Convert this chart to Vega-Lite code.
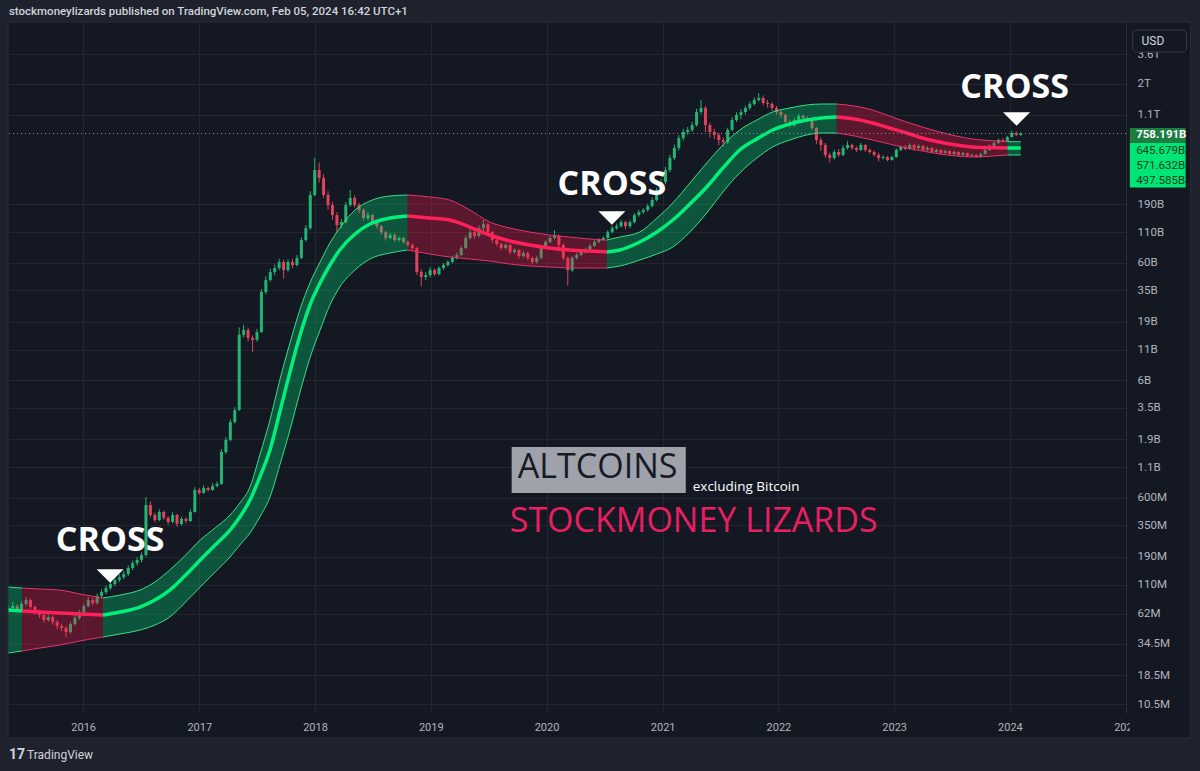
{
  "$schema": "https://vega.github.io/schema/vega-lite/v6.json",
  "width": 1118,
  "height": 691,
  "autosize": {"type": "none"},
  "padding": {"left": 8, "top": 22, "right": 74, "bottom": 58},
  "background": "#141823",
  "config": {
    "view": {"stroke": null},
    "axis": {"gridColor": "#22262f", "gridWidth": 1, "labelColor": "#b2b5be", "labelFont": "Roboto", "labelFontSize": 11.5, "tickSize": 0, "ticks": false, "domain": false}
  },
  "datasets": {
    "candles": [
      {"d":"2015-05-10","o":66,"h":73,"l":63,"c":69.4},
      {"d":"2015-05-24","o":69.4,"h":78,"l":67,"c":72.2},
      {"d":"2015-06-07","o":72.2,"h":75,"l":64,"c":66.7},
      {"d":"2015-06-21","o":66.7,"h":79,"l":64,"c":75},
      {"d":"2015-07-05","o":75,"h":86,"l":72,"c":81.2},
      {"d":"2015-07-19","o":81.2,"h":84,"l":68,"c":70.8},
      {"d":"2015-08-02","o":70.8,"h":73,"l":61,"c":64.1},
      {"d":"2015-08-16","o":64.1,"h":67,"l":57,"c":60.5},
      {"d":"2015-08-30","o":60.5,"h":63,"l":52,"c":54.9},
      {"d":"2015-09-13","o":54.9,"h":61,"l":53,"c":58.2},
      {"d":"2015-09-27","o":58.2,"h":60,"l":50,"c":52.8},
      {"d":"2015-10-11","o":52.8,"h":55,"l":46,"c":48.8},
      {"d":"2015-10-25","o":48.8,"h":51,"l":44,"c":46.9},
      {"d":"2015-11-08","o":46.9,"h":49,"l":39,"c":43.4},
      {"d":"2015-11-22","o":43.4,"h":53,"l":42,"c":50.7},
      {"d":"2015-12-06","o":50.7,"h":60,"l":49,"c":57.1},
      {"d":"2015-12-20","o":57.1,"h":67,"l":55,"c":64.1},
      {"d":"2016-01-03","o":64.1,"h":76,"l":62,"c":72.2},
      {"d":"2016-01-17","o":72.2,"h":86,"l":70,"c":81.2},
      {"d":"2016-01-31","o":81.2,"h":85,"l":73,"c":76.5},
      {"d":"2016-02-14","o":76.5,"h":92,"l":74,"c":87.9},
      {"d":"2016-02-28","o":87.9,"h":100,"l":85,"c":94.9},
      {"d":"2016-03-13","o":94.9,"h":108,"l":91,"c":102.6},
      {"d":"2016-03-27","o":102.6,"h":117,"l":99,"c":111},
      {"d":"2016-04-10","o":111,"h":126,"l":107,"c":120},
      {"d":"2016-04-24","o":120,"h":134,"l":115,"c":127},
      {"d":"2016-05-08","o":127,"h":143,"l":122,"c":135},
      {"d":"2016-05-22","o":135,"h":160,"l":130,"c":152},
      {"d":"2016-06-05","o":152,"h":176,"l":146,"c":167},
      {"d":"2016-06-19","o":167,"h":188,"l":160,"c":178},
      {"d":"2016-07-03","o":178,"h":207,"l":170,"c":196},
      {"d":"2016-07-17","o":196,"h":611,"l":190,"c":522},
      {"d":"2016-07-31","o":522,"h":560,"l":410,"c":430},
      {"d":"2016-08-14","o":430,"h":450,"l":372,"c":390},
      {"d":"2016-08-28","o":390,"h":480,"l":380,"c":456},
      {"d":"2016-09-11","o":456,"h":470,"l":390,"c":406},
      {"d":"2016-09-25","o":406,"h":420,"l":355,"c":375},
      {"d":"2016-10-09","o":375,"h":455,"l":365,"c":430},
      {"d":"2016-10-23","o":430,"h":440,"l":340,"c":360},
      {"d":"2016-11-06","o":360,"h":415,"l":350,"c":398},
      {"d":"2016-11-20","o":398,"h":410,"l":365,"c":382},
      {"d":"2016-12-04","o":382,"h":480,"l":375,"c":456},
      {"d":"2016-12-18","o":456,"h":740,"l":450,"c":701},
      {"d":"2017-01-01","o":701,"h":730,"l":640,"c":661},
      {"d":"2017-01-15","o":661,"h":770,"l":650,"c":729},
      {"d":"2017-01-29","o":729,"h":750,"l":680,"c":701},
      {"d":"2017-02-12","o":701,"h":800,"l":690,"c":758},
      {"d":"2017-02-26","o":758,"h":830,"l":740,"c":789},
      {"d":"2017-03-12","o":789,"h":1560,"l":775,"c":1476},
      {"d":"2017-03-26","o":1476,"h":1980,"l":1420,"c":1870},
      {"d":"2017-04-09","o":1870,"h":2800,"l":1820,"c":2654},
      {"d":"2017-04-23","o":2654,"h":3550,"l":2580,"c":3360},
      {"d":"2017-05-07","o":3360,"h":17000,"l":3300,"c":14670},
      {"d":"2017-05-21","o":14670,"h":17800,"l":13900,"c":16100},
      {"d":"2017-06-04","o":16100,"h":16900,"l":12900,"c":13830},
      {"d":"2017-06-18","o":13830,"h":14500,"l":10500,"c":13300},
      {"d":"2017-07-02","o":13300,"h":16500,"l":12800,"c":15480},
      {"d":"2017-07-16","o":15480,"h":36000,"l":15200,"c":33940},
      {"d":"2017-07-30","o":33940,"h":46000,"l":32500,"c":42900},
      {"d":"2017-08-13","o":42900,"h":53500,"l":41500,"c":50190},
      {"d":"2017-08-27","o":50190,"h":58000,"l":47000,"c":54290},
      {"d":"2017-09-10","o":54290,"h":65000,"l":52000,"c":61150},
      {"d":"2017-09-24","o":61150,"h":64000,"l":44000,"c":52200},
      {"d":"2017-10-08","o":52200,"h":64500,"l":50500,"c":61150},
      {"d":"2017-10-22","o":61150,"h":65000,"l":54000,"c":57580},
      {"d":"2017-11-05","o":57580,"h":70000,"l":56000,"c":66140},
      {"d":"2017-11-19","o":66140,"h":99000,"l":64500,"c":94000},
      {"d":"2017-12-03","o":94000,"h":126000,"l":91000,"c":118600},
      {"d":"2017-12-17","o":118600,"h":245000,"l":115000,"c":227200},
      {"d":"2017-12-31","o":227200,"h":469000,"l":222000,"c":371000},
      {"d":"2018-01-14","o":371000,"h":430000,"l":290000,"c":317200},
      {"d":"2018-01-28","o":317200,"h":340000,"l":215000,"c":227200},
      {"d":"2018-02-11","o":227200,"h":245000,"l":170000,"c":186400},
      {"d":"2018-02-25","o":186400,"h":198000,"l":140000,"c":153300},
      {"d":"2018-03-11","o":153300,"h":162000,"l":110000,"c":125700},
      {"d":"2018-03-25","o":125700,"h":142000,"l":118000,"c":133400},
      {"d":"2018-04-08","o":133400,"h":198000,"l":130000,"c":186400},
      {"d":"2018-04-22","o":186400,"h":250000,"l":180000,"c":214200},
      {"d":"2018-05-06","o":214200,"h":226000,"l":178000,"c":186400},
      {"d":"2018-05-20","o":186400,"h":195000,"l":160000,"c":169000},
      {"d":"2018-06-03","o":169000,"h":175000,"l":138000,"c":144600},
      {"d":"2018-06-17","o":144600,"h":162000,"l":138000,"c":153300},
      {"d":"2018-07-01","o":153300,"h":158000,"l":128000,"c":133400},
      {"d":"2018-07-15","o":133400,"h":139000,"l":117000,"c":123300},
      {"d":"2018-07-29","o":123300,"h":127000,"l":104000,"c":109600},
      {"d":"2018-08-12","o":109600,"h":113000,"l":93000,"c":97800},
      {"d":"2018-08-26","o":97800,"h":108000,"l":95000,"c":103700},
      {"d":"2018-09-09","o":103700,"h":107000,"l":90000,"c":94000},
      {"d":"2018-09-23","o":94000,"h":101000,"l":91000,"c":97800},
      {"d":"2018-10-07","o":97800,"h":100000,"l":87500,"c":90400},
      {"d":"2018-10-21","o":90400,"h":93000,"l":82500,"c":85300},
      {"d":"2018-11-04","o":85300,"h":88000,"l":76000,"c":80400},
      {"d":"2018-11-18","o":80400,"h":82000,"l":47500,"c":50190},
      {"d":"2018-12-02","o":50190,"h":53000,"l":38000,"c":45500},
      {"d":"2018-12-16","o":45500,"h":50000,"l":43000,"c":47330},
      {"d":"2018-12-30","o":47330,"h":55000,"l":45500,"c":52200},
      {"d":"2019-01-13","o":52200,"h":54000,"l":46500,"c":48240},
      {"d":"2019-01-27","o":48240,"h":56000,"l":47000,"c":54290},
      {"d":"2019-02-10","o":54290,"h":60000,"l":52500,"c":57580},
      {"d":"2019-02-24","o":57580,"h":63500,"l":56000,"c":61150},
      {"d":"2019-03-10","o":61150,"h":69000,"l":59500,"c":66140},
      {"d":"2019-03-24","o":66140,"h":73500,"l":64000,"c":70150},
      {"d":"2019-04-07","o":70150,"h":84000,"l":68500,"c":80400},
      {"d":"2019-04-21","o":80400,"h":103000,"l":78500,"c":97800},
      {"d":"2019-05-05","o":97800,"h":116000,"l":95000,"c":109600},
      {"d":"2019-05-19","o":109600,"h":114000,"l":96000,"c":101700},
      {"d":"2019-06-02","o":101700,"h":125000,"l":99000,"c":118600},
      {"d":"2019-06-16","o":118600,"h":139000,"l":112000,"c":128300},
      {"d":"2019-06-30","o":128300,"h":132000,"l":104000,"c":109600},
      {"d":"2019-07-14","o":109600,"h":112000,"l":89000,"c":94000},
      {"d":"2019-07-28","o":94000,"h":97000,"l":83000,"c":86900},
      {"d":"2019-08-11","o":86900,"h":90000,"l":76500,"c":80400},
      {"d":"2019-08-25","o":80400,"h":88500,"l":78000,"c":85300},
      {"d":"2019-09-08","o":85300,"h":87000,"l":71000,"c":74300},
      {"d":"2019-09-22","o":74300,"h":80000,"l":72000,"c":77300},
      {"d":"2019-10-06","o":77300,"h":79000,"l":65500,"c":68800},
      {"d":"2019-10-20","o":68800,"h":76000,"l":66500,"c":72900},
      {"d":"2019-11-03","o":72900,"h":75000,"l":63000,"c":66140},
      {"d":"2019-11-17","o":66140,"h":68000,"l":58500,"c":61150},
      {"d":"2019-12-01","o":61150,"h":69000,"l":59500,"c":66140},
      {"d":"2019-12-15","o":66140,"h":84000,"l":64500,"c":80400},
      {"d":"2019-12-29","o":80400,"h":94000,"l":78500,"c":90400},
      {"d":"2020-01-12","o":90400,"h":102000,"l":88000,"c":97800},
      {"d":"2020-01-26","o":97800,"h":114000,"l":95000,"c":101700},
      {"d":"2020-02-09","o":101700,"h":105000,"l":81000,"c":85300},
      {"d":"2020-02-23","o":85300,"h":88000,"l":63000,"c":66000},
      {"d":"2020-03-08","o":66000,"h":68000,"l":38500,"c":52000},
      {"d":"2020-03-22","o":52000,"h":68500,"l":50000,"c":66140},
      {"d":"2020-04-05","o":66140,"h":73500,"l":64000,"c":70150},
      {"d":"2020-04-19","o":70150,"h":77500,"l":68500,"c":74300},
      {"d":"2020-05-03","o":74300,"h":81000,"l":72500,"c":77300},
      {"d":"2020-05-17","o":77300,"h":87000,"l":75500,"c":83600},
      {"d":"2020-05-31","o":83600,"h":94000,"l":82000,"c":90400},
      {"d":"2020-06-14","o":90400,"h":97500,"l":88000,"c":94000},
      {"d":"2020-06-28","o":94000,"h":101000,"l":92000,"c":97800},
      {"d":"2020-07-12","o":97800,"h":114000,"l":96000,"c":109600},
      {"d":"2020-07-26","o":109600,"h":124000,"l":107000,"c":118600},
      {"d":"2020-08-09","o":118600,"h":130000,"l":115000,"c":123300},
      {"d":"2020-08-23","o":123300,"h":140000,"l":120000,"c":133400},
      {"d":"2020-09-06","o":133400,"h":137000,"l":116000,"c":123300},
      {"d":"2020-09-20","o":123300,"h":138000,"l":119000,"c":133400},
      {"d":"2020-10-04","o":133400,"h":160000,"l":130000,"c":153300},
      {"d":"2020-10-18","o":153300,"h":170000,"l":148000,"c":162500},
      {"d":"2020-11-01","o":162500,"h":176000,"l":157000,"c":169000},
      {"d":"2020-11-15","o":169000,"h":192000,"l":164000,"c":182900},
      {"d":"2020-11-29","o":182900,"h":216000,"l":178000,"c":206000},
      {"d":"2020-12-13","o":206000,"h":262000,"l":200000,"c":250000},
      {"d":"2020-12-27","o":250000,"h":310000,"l":240000,"c":293300},
      {"d":"2021-01-10","o":293300,"h":395000,"l":280000,"c":371000},
      {"d":"2021-01-24","o":371000,"h":500000,"l":355000,"c":469000},
      {"d":"2021-02-07","o":469000,"h":610000,"l":450000,"c":571000},
      {"d":"2021-02-21","o":571000,"h":735000,"l":545000,"c":694000},
      {"d":"2021-03-07","o":694000,"h":830000,"l":660000,"c":781000},
      {"d":"2021-03-21","o":781000,"h":860000,"l":740000,"c":812000},
      {"d":"2021-04-04","o":812000,"h":950000,"l":780000,"c":895000},
      {"d":"2021-04-18","o":895000,"h":1230000,"l":870000,"c":1155000},
      {"d":"2021-05-02","o":1155000,"h":1461000,"l":1100000,"c":1249000},
      {"d":"2021-05-16","o":1249000,"h":1300000,"l":780000,"c":895000},
      {"d":"2021-05-30","o":895000,"h":940000,"l":700000,"c":781000},
      {"d":"2021-06-13","o":781000,"h":830000,"l":680000,"c":736000},
      {"d":"2021-06-27","o":736000,"h":770000,"l":600000,"c":667000},
      {"d":"2021-07-11","o":667000,"h":700000,"l":583000,"c":641000},
      {"d":"2021-07-25","o":641000,"h":850000,"l":620000,"c":812000},
      {"d":"2021-08-08","o":812000,"h":1040000,"l":790000,"c":987000},
      {"d":"2021-08-22","o":987000,"h":1150000,"l":950000,"c":1089000},
      {"d":"2021-09-05","o":1089000,"h":1220000,"l":1000000,"c":1155000},
      {"d":"2021-09-19","o":1155000,"h":1310000,"l":1100000,"c":1249000},
      {"d":"2021-10-03","o":1249000,"h":1420000,"l":1200000,"c":1351000},
      {"d":"2021-10-17","o":1351000,"h":1540000,"l":1310000,"c":1461000},
      {"d":"2021-10-31","o":1461000,"h":1676000,"l":1420000,"c":1520000},
      {"d":"2021-11-14","o":1520000,"h":1600000,"l":1320000,"c":1377000},
      {"d":"2021-11-28","o":1377000,"h":1460000,"l":1260000,"c":1351000},
      {"d":"2021-12-12","o":1351000,"h":1400000,"l":1180000,"c":1249000},
      {"d":"2021-12-26","o":1249000,"h":1300000,"l":1100000,"c":1155000},
      {"d":"2022-01-09","o":1155000,"h":1200000,"l":1030000,"c":1089000},
      {"d":"2022-01-23","o":1089000,"h":1120000,"l":880000,"c":949000},
      {"d":"2022-02-06","o":949000,"h":1000000,"l":850000,"c":895000},
      {"d":"2022-02-20","o":895000,"h":1030000,"l":860000,"c":987000},
      {"d":"2022-03-06","o":987000,"h":1110000,"l":950000,"c":1068000},
      {"d":"2022-03-20","o":1068000,"h":1100000,"l":990000,"c":1027000},
      {"d":"2022-04-03","o":1027000,"h":1060000,"l":950000,"c":987000},
      {"d":"2022-04-17","o":987000,"h":1010000,"l":810000,"c":844000},
      {"d":"2022-05-01","o":844000,"h":860000,"l":620000,"c":667000},
      {"d":"2022-05-15","o":667000,"h":700000,"l":540000,"c":606000},
      {"d":"2022-05-29","o":606000,"h":630000,"l":470000,"c":498000},
      {"d":"2022-06-12","o":498000,"h":520000,"l":430000,"c":469000},
      {"d":"2022-06-26","o":469000,"h":550000,"l":455000,"c":528000},
      {"d":"2022-07-10","o":528000,"h":560000,"l":480000,"c":498000},
      {"d":"2022-07-24","o":498000,"h":600000,"l":485000,"c":571000},
      {"d":"2022-08-07","o":571000,"h":650000,"l":555000,"c":606000},
      {"d":"2022-08-21","o":606000,"h":620000,"l":550000,"c":571000},
      {"d":"2022-09-04","o":571000,"h":590000,"l":525000,"c":549000},
      {"d":"2022-09-18","o":549000,"h":630000,"l":535000,"c":606000},
      {"d":"2022-10-02","o":606000,"h":615000,"l":530000,"c":549000},
      {"d":"2022-10-16","o":549000,"h":565000,"l":510000,"c":528000},
      {"d":"2022-10-30","o":528000,"h":545000,"l":485000,"c":498000},
      {"d":"2022-11-13","o":498000,"h":520000,"l":440000,"c":469000},
      {"d":"2022-11-27","o":469000,"h":495000,"l":455000,"c":478000},
      {"d":"2022-12-11","o":478000,"h":490000,"l":440000,"c":451000},
      {"d":"2022-12-25","o":451000,"h":490000,"l":445000,"c":478000},
      {"d":"2023-01-08","o":478000,"h":565000,"l":470000,"c":549000},
      {"d":"2023-01-22","o":549000,"h":600000,"l":540000,"c":583000},
      {"d":"2023-02-05","o":583000,"h":605000,"l":545000,"c":560000},
      {"d":"2023-02-19","o":560000,"h":625000,"l":550000,"c":606000},
      {"d":"2023-03-05","o":606000,"h":615000,"l":540000,"c":571000},
      {"d":"2023-03-19","o":571000,"h":615000,"l":560000,"c":594000},
      {"d":"2023-04-02","o":594000,"h":605000,"l":540000,"c":549000},
      {"d":"2023-04-16","o":549000,"h":590000,"l":540000,"c":571000},
      {"d":"2023-04-30","o":571000,"h":580000,"l":518000,"c":528000},
      {"d":"2023-05-14","o":528000,"h":565000,"l":520000,"c":549000},
      {"d":"2023-05-28","o":549000,"h":556000,"l":505000,"c":517000},
      {"d":"2023-06-11","o":517000,"h":555000,"l":510000,"c":538000},
      {"d":"2023-06-25","o":538000,"h":545000,"l":498000,"c":507000},
      {"d":"2023-07-09","o":507000,"h":542000,"l":500000,"c":528000},
      {"d":"2023-07-23","o":528000,"h":535000,"l":488000,"c":498000},
      {"d":"2023-08-06","o":498000,"h":528000,"l":490000,"c":517000},
      {"d":"2023-08-20","o":517000,"h":522000,"l":478000,"c":488000},
      {"d":"2023-09-03","o":488000,"h":510000,"l":480000,"c":498000},
      {"d":"2023-09-17","o":498000,"h":505000,"l":470000,"c":478000},
      {"d":"2023-10-01","o":478000,"h":518000,"l":472000,"c":507000},
      {"d":"2023-10-15","o":507000,"h":560000,"l":500000,"c":549000},
      {"d":"2023-10-29","o":549000,"h":610000,"l":540000,"c":594000},
      {"d":"2023-11-12","o":594000,"h":645000,"l":585000,"c":629000},
      {"d":"2023-11-26","o":629000,"h":685000,"l":620000,"c":667000},
      {"d":"2023-12-10","o":667000,"h":690000,"l":640000,"c":654000},
      {"d":"2023-12-24","o":654000,"h":725000,"l":645000,"c":708000},
      {"d":"2024-01-07","o":708000,"h":800000,"l":700000,"c":765000},
      {"d":"2024-01-21","o":765000,"h":790000,"l":720000,"c":736000},
      {"d":"2024-02-04","o":736000,"h":775000,"l":725000,"c":758191}
    ],
    "band": [
      {"d":"2015-05-09","m":66.7,"u":104.7,"l":28.7,"s":"A","t":"up"},
      {"d":"2015-06-22","m":65.4,"u":102.7,"l":29.9,"s":"A","t":"up"},
      {"d":"2015-06-22","m":65.4,"u":102.7,"l":29.9,"s":"B","t":"dn"},
      {"d":"2015-08-18","m":64.2,"u":100.7,"l":31.7,"s":"B","t":"dn"},
      {"d":"2015-10-20","m":62.9,"u":98.7,"l":33.6,"s":"B","t":"dn"},
      {"d":"2015-12-22","m":61.7,"u":91.3,"l":36.4,"s":"B","t":"dn"},
      {"d":"2016-03-03","m":60.5,"u":84.4,"l":39.3,"s":"B","t":"dn"},
      {"d":"2016-03-03","m":60.5,"u":84.4,"l":39.3,"s":"C","t":"up"},
      {"d":"2016-04-26","m":64.2,"u":89.5,"l":41.7,"s":"C","t":"up"},
      {"d":"2016-06-28","m":70.7,"u":98.7,"l":45.1,"s":"C","t":"up"},
      {"d":"2016-08-14","m":81.2,"u":115.5,"l":49.7,"s":"C","t":"up"},
      {"d":"2016-09-30","m":98.7,"u":146.1,"l":58.2,"s":"C","t":"up"},
      {"d":"2016-11-16","m":129.9,"u":192.2,"l":76.6,"s":"C","t":"up"},
      {"d":"2017-01-04","m":177.7,"u":263.1,"l":104.7,"s":"C","t":"up"},
      {"d":"2017-02-20","m":238.5,"u":333,"l":140.5,"s":"C","t":"up"},
      {"d":"2017-04-08","m":320,"u":429,"l":188.6,"s":"C","t":"up"},
      {"d":"2017-05-09","m":413,"u":543,"l":238.5,"s":"C","t":"up"},
      {"d":"2017-06-10","m":576,"u":743,"l":301.7,"s":"C","t":"up"},
      {"d":"2017-07-11","m":904,"u":1392,"l":413,"s":"C","t":"up"},
      {"d":"2017-08-12","m":1535,"u":2763,"l":611,"s":"C","t":"up"},
      {"d":"2017-09-12","m":3231,"u":6050,"l":1144,"s":"C","t":"up"},
      {"d":"2017-10-14","m":7076,"u":12500,"l":2271,"s":"C","t":"up"},
      {"d":"2017-11-14","m":14330,"u":23850,"l":4690,"s":"C","t":"up"},
      {"d":"2017-12-16","m":26310,"u":40490,"l":9311,"s":"C","t":"up"},
      {"d":"2018-01-17","m":40490,"u":61100,"l":16120,"s":"C","t":"up"},
      {"d":"2018-02-17","m":57620,"u":88660,"l":26310,"s":"C","t":"up"},
      {"d":"2018-03-20","m":77290,"u":119000,"l":37440,"s":"C","t":"up"},
      {"d":"2018-05-07","m":105700,"u":169300,"l":52240,"s":"C","t":"up"},
      {"d":"2018-06-23","m":128600,"u":202000,"l":64800,"s":"C","t":"up"},
      {"d":"2018-08-25","m":144700,"u":222700,"l":72900,"s":"C","t":"up"},
      {"d":"2018-10-20","m":150500,"u":227100,"l":77290,"s":"C","t":"up"},
      {"d":"2018-10-20","m":150500,"u":227100,"l":77290,"s":"D","t":"dn"},
      {"d":"2018-12-29","m":144700,"u":218400,"l":71470,"s":"D","t":"dn"},
      {"d":"2019-03-02","m":139100,"u":205900,"l":67400,"s":"D","t":"dn"},
      {"d":"2019-05-04","m":121300,"u":169300,"l":64800,"s":"D","t":"dn"},
      {"d":"2019-07-06","m":103700,"u":133800,"l":62300,"s":"D","t":"dn"},
      {"d":"2019-09-07","m":92200,"u":119000,"l":58750,"s":"D","t":"dn"},
      {"d":"2019-11-09","m":85240,"u":110000,"l":56490,"s":"D","t":"dn"},
      {"d":"2020-01-11","m":80380,"u":103700,"l":55400,"s":"D","t":"dn"},
      {"d":"2020-03-14","m":77290,"u":99700,"l":54330,"s":"D","t":"dn"},
      {"d":"2020-05-16","m":75780,"u":95900,"l":54330,"s":"D","t":"dn"},
      {"d":"2020-07-09","m":74320,"u":94000,"l":54330,"s":"D","t":"dn"},
      {"d":"2020-07-09","m":74320,"u":94000,"l":54330,"s":"E","t":"up"},
      {"d":"2020-08-19","m":77290,"u":99700,"l":56490,"s":"E","t":"up"},
      {"d":"2020-10-21","m":90410,"u":110000,"l":63560,"s":"E","t":"up"},
      {"d":"2020-12-14","m":110000,"u":144700,"l":71470,"s":"E","t":"up"},
      {"d":"2021-02-02","m":139100,"u":194200,"l":81950,"s":"E","t":"up"},
      {"d":"2021-03-28","m":190400,"u":287300,"l":110000,"s":"E","t":"up"},
      {"d":"2021-05-20","m":265700,"u":425300,"l":159600,"s":"E","t":"up"},
      {"d":"2021-07-10","m":385700,"u":605100,"l":240900,"s":"E","t":"up"},
      {"d":"2021-09-01","m":548700,"u":811800,"l":349600,"s":"E","t":"up"},
      {"d":"2021-10-25","m":680700,"u":987400,"l":469100,"s":"E","t":"up"},
      {"d":"2021-12-14","m":811800,"u":1155000,"l":582000,"s":"E","t":"up"},
      {"d":"2022-02-06","m":913000,"u":1250000,"l":667400,"s":"E","t":"up"},
      {"d":"2022-03-31","m":987400,"u":1325000,"l":736200,"s":"E","t":"up"},
      {"d":"2022-05-17","m":1027000,"u":1351000,"l":765700,"s":"E","t":"up"},
      {"d":"2022-07-04","m":1047000,"u":1351000,"l":765700,"s":"E","t":"up"},
      {"d":"2022-07-04","m":1047000,"u":1351000,"l":765700,"s":"F","t":"dn"},
      {"d":"2022-08-29","m":1007000,"u":1299000,"l":721900,"s":"F","t":"dn"},
      {"d":"2022-10-25","m":931100,"u":1201000,"l":667400,"s":"F","t":"dn"},
      {"d":"2022-12-17","m":844400,"u":1068000,"l":617100,"s":"F","t":"dn"},
      {"d":"2023-02-09","m":765700,"u":949500,"l":570500,"s":"F","t":"dn"},
      {"d":"2023-03-31","m":694200,"u":861000,"l":538100,"s":"F","t":"dn"},
      {"d":"2023-05-24","m":642000,"u":780800,"l":507400,"s":"F","t":"dn"},
      {"d":"2023-07-16","m":605100,"u":721900,"l":487800,"s":"F","t":"dn"},
      {"d":"2023-09-05","m":582000,"u":680700,"l":478300,"s":"F","t":"dn"},
      {"d":"2023-10-28","m":575000,"u":660000,"l":485000,"s":"F","t":"dn"},
      {"d":"2023-12-24","m":571600,"u":645700,"l":497600,"s":"F","t":"dn"},
      {"d":"2023-12-24","m":571600,"u":645700,"l":497600,"s":"G","t":"up"},
      {"d":"2024-02-04","m":571632,"u":645679,"l":497585,"s":"G","t":"up"}
    ],
    "cross": [
      {"d":"2016-03-26","v":258},
      {"d":"2020-07-25","v":276500},
      {"d":"2024-01-16","v":1849000}
    ],
    "tri": [
      {"d":"2016-03-26","v":130},
      {"d":"2020-07-25","v":144600},
      {"d":"2024-01-22","v":1007000}
    ],
    "tags": [
      {"d":"2025-02-02","v":538100,"lab":"645.679B"},
      {"d":"2025-02-02","v":400900,"lab":"571.632B"},
      {"d":"2025-02-02","v":298800,"lab":"497.585B"}
    ]
  },
  "layer": [
    {
      "data": {"name": "candles"},
      "mark": {"type": "rule", "clip": true, "strokeWidth": 1},
      "encoding": {
        "x": {"field": "d", "type": "temporal", "title": null,
          "scale": {"type": "utc", "padding": 0, "domain": [{"year": 2015, "month": 5, "date": 9, "utc": true}, {"year": 2025, "month": 1, "date": 1, "utc": true}]},
          "axis": {"format": "%Y", "tickCount": {"interval": "year", "step": 1}, "labelPadding": 8, "labelFlush": false, "labelOverlap": false, "grid": true, "labelFontSize": 11}},
        "y": {"field": "l", "type": "quantitative", "title": null,
          "scale": {"type": "log", "padding": 0, "domain": [8.87, 6740000], "nice": false},
          "axis": {"orient": "right", "values": [10.5, 18.5, 34.5, 62, 110, 190, 350, 600, 1100, 1900, 3500, 6000, 11000, 19000, 35000, 60000, 110000, 190000, 1100000, 2000000, 3600000],
            "labelExpr": "datum.value >= 1000000 ? (datum.value / 1000000) + 'T' : datum.value >= 1000 ? (datum.value / 1000) + 'B' : datum.value + 'M'",
            "labelPadding": 11, "labelAlign": "left", "labelBaseline": "middle", "labelOverlap": false, "domain": true, "domainColor": "#2a2e39", "grid": true}},
        "y2": {"field": "h"},
        "color": {"condition": {"test": "datum.c >= datum.o", "value": "#22b573"}, "value": "#e0445c"}
      }
    },
    {
      "data": {"name": "candles"},
      "mark": {"type": "bar", "clip": true, "size": 3},
      "encoding": {
        "x": {"field": "d", "type": "temporal", "title": null},
        "y": {"field": "o", "type": "quantitative", "title": null},
        "y2": {"field": "c"},
        "color": {"condition": {"test": "datum.c >= datum.o", "value": "#22b573"}, "value": "#e0445c"}
      }
    },
    {
      "data": {"name": "band"},
      "mark": {"type": "area", "interpolate": "monotone", "fillOpacity": 0.3, "clip": true},
      "encoding": {
        "x": {"field": "d", "type": "temporal", "title": null},
        "y": {"field": "l", "type": "quantitative", "title": null},
        "y2": {"field": "u"},
        "detail": {"field": "s"},
        "color": {"condition": {"test": "datum.t == 'up'", "value": "#00e676"}, "value": "#ff1744"}
      }
    },
    {
      "data": {"name": "band"},
      "mark": {"type": "line", "interpolate": "monotone", "strokeWidth": 1, "clip": true},
      "encoding": {
        "x": {"field": "d", "type": "temporal", "title": null},
        "y": {"field": "u", "type": "quantitative", "title": null},
        "detail": {"field": "s"},
        "color": {"condition": {"test": "datum.t == 'up'", "value": "#3ddc84"}, "value": "#e8336b"}
      }
    },
    {
      "data": {"name": "band"},
      "mark": {"type": "line", "interpolate": "monotone", "strokeWidth": 1, "clip": true},
      "encoding": {
        "x": {"field": "d", "type": "temporal", "title": null},
        "y": {"field": "l", "type": "quantitative", "title": null},
        "detail": {"field": "s"},
        "color": {"condition": {"test": "datum.t == 'up'", "value": "#3ddc84"}, "value": "#e8336b"}
      }
    },
    {
      "data": {"name": "band"},
      "mark": {"type": "line", "interpolate": "monotone", "strokeWidth": 3.5, "clip": true},
      "encoding": {
        "x": {"field": "d", "type": "temporal", "title": null},
        "y": {"field": "m", "type": "quantitative", "title": null},
        "detail": {"field": "s"},
        "color": {"condition": {"test": "datum.t == 'up'", "value": "#00f07a"}, "value": "#ff1f5a"}
      }
    },
    {
      "data": {"values": [{}]},
      "mark": {"type": "rule", "strokeDash": [1, 3], "color": "#8a8d96", "strokeWidth": 1},
      "encoding": {"y": {"datum": 758191, "type": "quantitative"}}
    },
    {
      "data": {"values": [{}]},
      "mark": {"type": "rect", "color": "#9fa2ab", "clip": false},
      "encoding": {
        "x": {"datum": {"year": 2019, "month": 9, "date": 13, "utc": true}, "type": "temporal"},
        "x2": {"datum": {"year": 2021, "month": 3, "date": 15, "utc": true}},
        "y": {"datum": 1629, "type": "quantitative"},
        "y2": {"datum": 661}
      }
    },
    {
      "data": {"values": [{}]},
      "mark": {"type": "text", "text": "ALTCOINS", "font": "Open Sans", "fontWeight": 500, "fontSize": 34, "color": "#171a24", "align": "center", "baseline": "middle"},
      "encoding": {
        "x": {"datum": {"year": 2020, "month": 6, "date": 10, "utc": true}, "type": "temporal"},
        "y": {"datum": 1080, "type": "quantitative"}
      }
    },
    {
      "data": {"values": [{}]},
      "mark": {"type": "text", "text": "excluding Bitcoin", "font": "Open Sans", "fontWeight": 500, "fontSize": 13.5, "color": "#ffffff", "align": "left", "baseline": "middle"},
      "encoding": {
        "x": {"datum": {"year": 2021, "month": 4, "date": 6, "utc": true}, "type": "temporal"},
        "y": {"datum": 743, "type": "quantitative"}
      }
    },
    {
      "data": {"values": [{}]},
      "mark": {"type": "text", "text": "STOCKMONEY LIZARDS", "font": "Open Sans", "fontWeight": 500, "fontSize": 34, "color": "#e91e63", "align": "left", "baseline": "middle"},
      "encoding": {
        "x": {"datum": {"year": 2019, "month": 9, "date": 7, "utc": true}, "type": "temporal"},
        "y": {"datum": 375, "type": "quantitative"}
      }
    },
    {
      "data": {"name": "cross"},
      "mark": {"type": "text", "text": "CROSS", "font": "Open Sans", "fontWeight": "bold", "fontSize": 34, "color": "#ffffff", "align": "center", "baseline": "middle"},
      "encoding": {
        "x": {"field": "d", "type": "temporal", "title": null},
        "y": {"field": "v", "type": "quantitative", "title": null}
      }
    },
    {
      "data": {"name": "tri"},
      "mark": {"type": "point", "shape": "M-1,-0.5L1,-0.5L0,0.5Z", "size": 729, "filled": true, "color": "#ffffff", "opacity": 1, "strokeWidth": 0},
      "encoding": {
        "x": {"field": "d", "type": "temporal", "title": null},
        "y": {"field": "v", "type": "quantitative", "title": null}
      }
    },
    {
      "data": {"values": [{}]},
      "mark": {"type": "rect", "color": "#1b7d3e", "clip": false},
      "encoding": {
        "x": {"datum": {"year": 2025, "month": 1, "date": 13, "utc": true}, "type": "temporal"},
        "x2": {"datum": {"year": 2025, "month": 7, "date": 8, "utc": true}},
        "y": {"datum": 844400, "type": "quantitative"},
        "y2": {"datum": 629300}
      }
    },
    {
      "data": {"values": [{}]},
      "mark": {"type": "rect", "color": "#00e676", "clip": false},
      "encoding": {
        "x": {"datum": {"year": 2025, "month": 1, "date": 13, "utc": true}, "type": "temporal"},
        "x2": {"datum": {"year": 2025, "month": 7, "date": 8, "utc": true}},
        "y": {"datum": 629300, "type": "quantitative"},
        "y2": {"datum": 263100}
      }
    },
    {
      "data": {"values": [{}]},
      "mark": {"type": "text", "text": "758.191B", "font": "Roboto", "fontWeight": "bold", "fontSize": 11.5, "color": "#ffffff", "align": "left", "baseline": "middle", "clip": false},
      "encoding": {
        "x": {"datum": {"year": 2025, "month": 2, "date": 2, "utc": true}, "type": "temporal"},
        "y": {"datum": 736000, "type": "quantitative"}
      }
    },
    {
      "data": {"name": "tags"},
      "mark": {"type": "text", "font": "Roboto", "fontSize": 11.5, "color": "#0d3b1e", "align": "left", "baseline": "middle", "clip": false},
      "encoding": {
        "x": {"field": "d", "type": "temporal", "title": null},
        "y": {"field": "v", "type": "quantitative", "title": null},
        "text": {"field": "lab"}
      }
    },
    {
      "data": {"values": [{}]},
      "mark": {"type": "rect", "color": "#141823", "stroke": "#363a45", "strokeWidth": 1, "cornerRadius": 4, "clip": false},
      "encoding": {
        "x": {"datum": {"year": 2025, "month": 1, "date": 22, "utc": true}, "type": "temporal"},
        "x2": {"datum": {"year": 2025, "month": 7, "date": 11, "utc": true}},
        "y": {"datum": 5761000, "type": "quantitative"},
        "y2": {"datum": 3744000}
      }
    },
    {
      "data": {"values": [{}]},
      "mark": {"type": "text", "text": "USD", "font": "Roboto", "fontSize": 12, "color": "#d1d4dc", "align": "left", "baseline": "middle", "clip": false},
      "encoding": {
        "x": {"datum": {"year": 2025, "month": 2, "date": 19, "utc": true}, "type": "temporal"},
        "y": {"datum": 4645000, "type": "quantitative"}
      }
    },
    {
      "data": {"values": [{}]},
      "mark": {"type": "rect", "color": "#141823", "clip": false},
      "encoding": {
        "x": {"datum": {"year": 2025, "month": 1, "date": 13, "utc": true}, "type": "temporal"},
        "x2": {"datum": {"year": 2025, "month": 7, "date": 24, "utc": true}},
        "y": {"datum": 8.87, "type": "quantitative"},
        "y2": {"datum": 5.43}
      }
    },
    {
      "data": {"values": [{}]},
      "mark": {"type": "rect", "color": "#1e222d", "clip": false},
      "encoding": {
        "x": {"datum": {"year": 2015, "month": 1, "date": 1, "utc": true}, "type": "temporal"},
        "x2": {"datum": {"year": 2026, "month": 1, "date": 1, "utc": true}},
        "y": {"datum": 20000000, "type": "quantitative"},
        "y2": {"datum": 6740000}
      }
    },
    {
      "data": {"values": [{}]},
      "mark": {"type": "rect", "color": "#1e222d", "clip": false},
      "encoding": {
        "x": {"datum": {"year": 2015, "month": 1, "date": 1, "utc": true}, "type": "temporal"},
        "x2": {"datum": {"year": 2026, "month": 1, "date": 1, "utc": true}},
        "y": {"datum": 5.43, "type": "quantitative"},
        "y2": {"datum": 0.5}
      }
    },
    {
      "data": {"values": [{}]},
      "mark": {"type": "rect", "color": "#1e222d", "clip": false},
      "encoding": {
        "x": {"datum": {"year": 2015, "month": 1, "date": 1, "utc": true}, "type": "temporal"},
        "x2": {"datum": {"year": 2015, "month": 5, "date": 9, "utc": true}},
        "y": {"datum": 20000000, "type": "quantitative"},
        "y2": {"datum": 0.5}
      }
    },
    {
      "data": {"values": [{}]},
      "mark": {"type": "rect", "color": "#1e222d", "clip": false},
      "encoding": {
        "x": {"datum": {"year": 2025, "month": 7, "date": 24, "utc": true}, "type": "temporal"},
        "x2": {"datum": {"year": 2026, "month": 1, "date": 1, "utc": true}},
        "y": {"datum": 20000000, "type": "quantitative"},
        "y2": {"datum": 0.5}
      }
    },
    {
      "data": {"values": [{}]},
      "mark": {"type": "rect", "fillOpacity": 0, "stroke": "#2a2e39", "strokeWidth": 1, "clip": false},
      "encoding": {
        "x": {"datum": {"year": 2015, "month": 5, "date": 9, "utc": true}, "type": "temporal"},
        "x2": {"datum": {"year": 2025, "month": 7, "date": 24, "utc": true}},
        "y": {"datum": 6740000, "type": "quantitative"},
        "y2": {"datum": 5.43}
      }
    },
    {
      "data": {"values": [{}]},
      "mark": {"type": "text", "text": "stockmoneylizards published on TradingView.com, Feb 05, 2024 16:42 UTC+1", "font": "Roboto", "fontWeight": 500, "fontSize": 11.5, "color": "#d1d4dc", "align": "left", "baseline": "middle", "clip": false},
      "encoding": {
        "x": {"datum": {"year": 2015, "month": 5, "date": 12, "utc": true}, "type": "temporal"},
        "y": {"datum": 8197000, "type": "quantitative"}
      }
    },
    {
      "data": {"values": [{}]},
      "mark": {"type": "text", "text": "17", "font": "Roboto", "fontWeight": "bold", "fontSize": 14, "color": "#d1d4dc", "align": "left", "baseline": "middle", "clip": false},
      "encoding": {
        "x": {"datum": {"year": 2015, "month": 5, "date": 12, "utc": true}, "type": "temporal"},
        "y": {"datum": 3.89, "type": "quantitative"}
      }
    },
    {
      "data": {"values": [{}]},
      "mark": {"type": "text", "text": "TradingView", "font": "Roboto", "fontSize": 12, "color": "#d1d4dc", "align": "left", "baseline": "middle", "clip": false},
      "encoding": {
        "x": {"datum": {"year": 2015, "month": 7, "date": 8, "utc": true}, "type": "temporal"},
        "y": {"datum": 3.89, "type": "quantitative"}
      }
    }
  ]
}
